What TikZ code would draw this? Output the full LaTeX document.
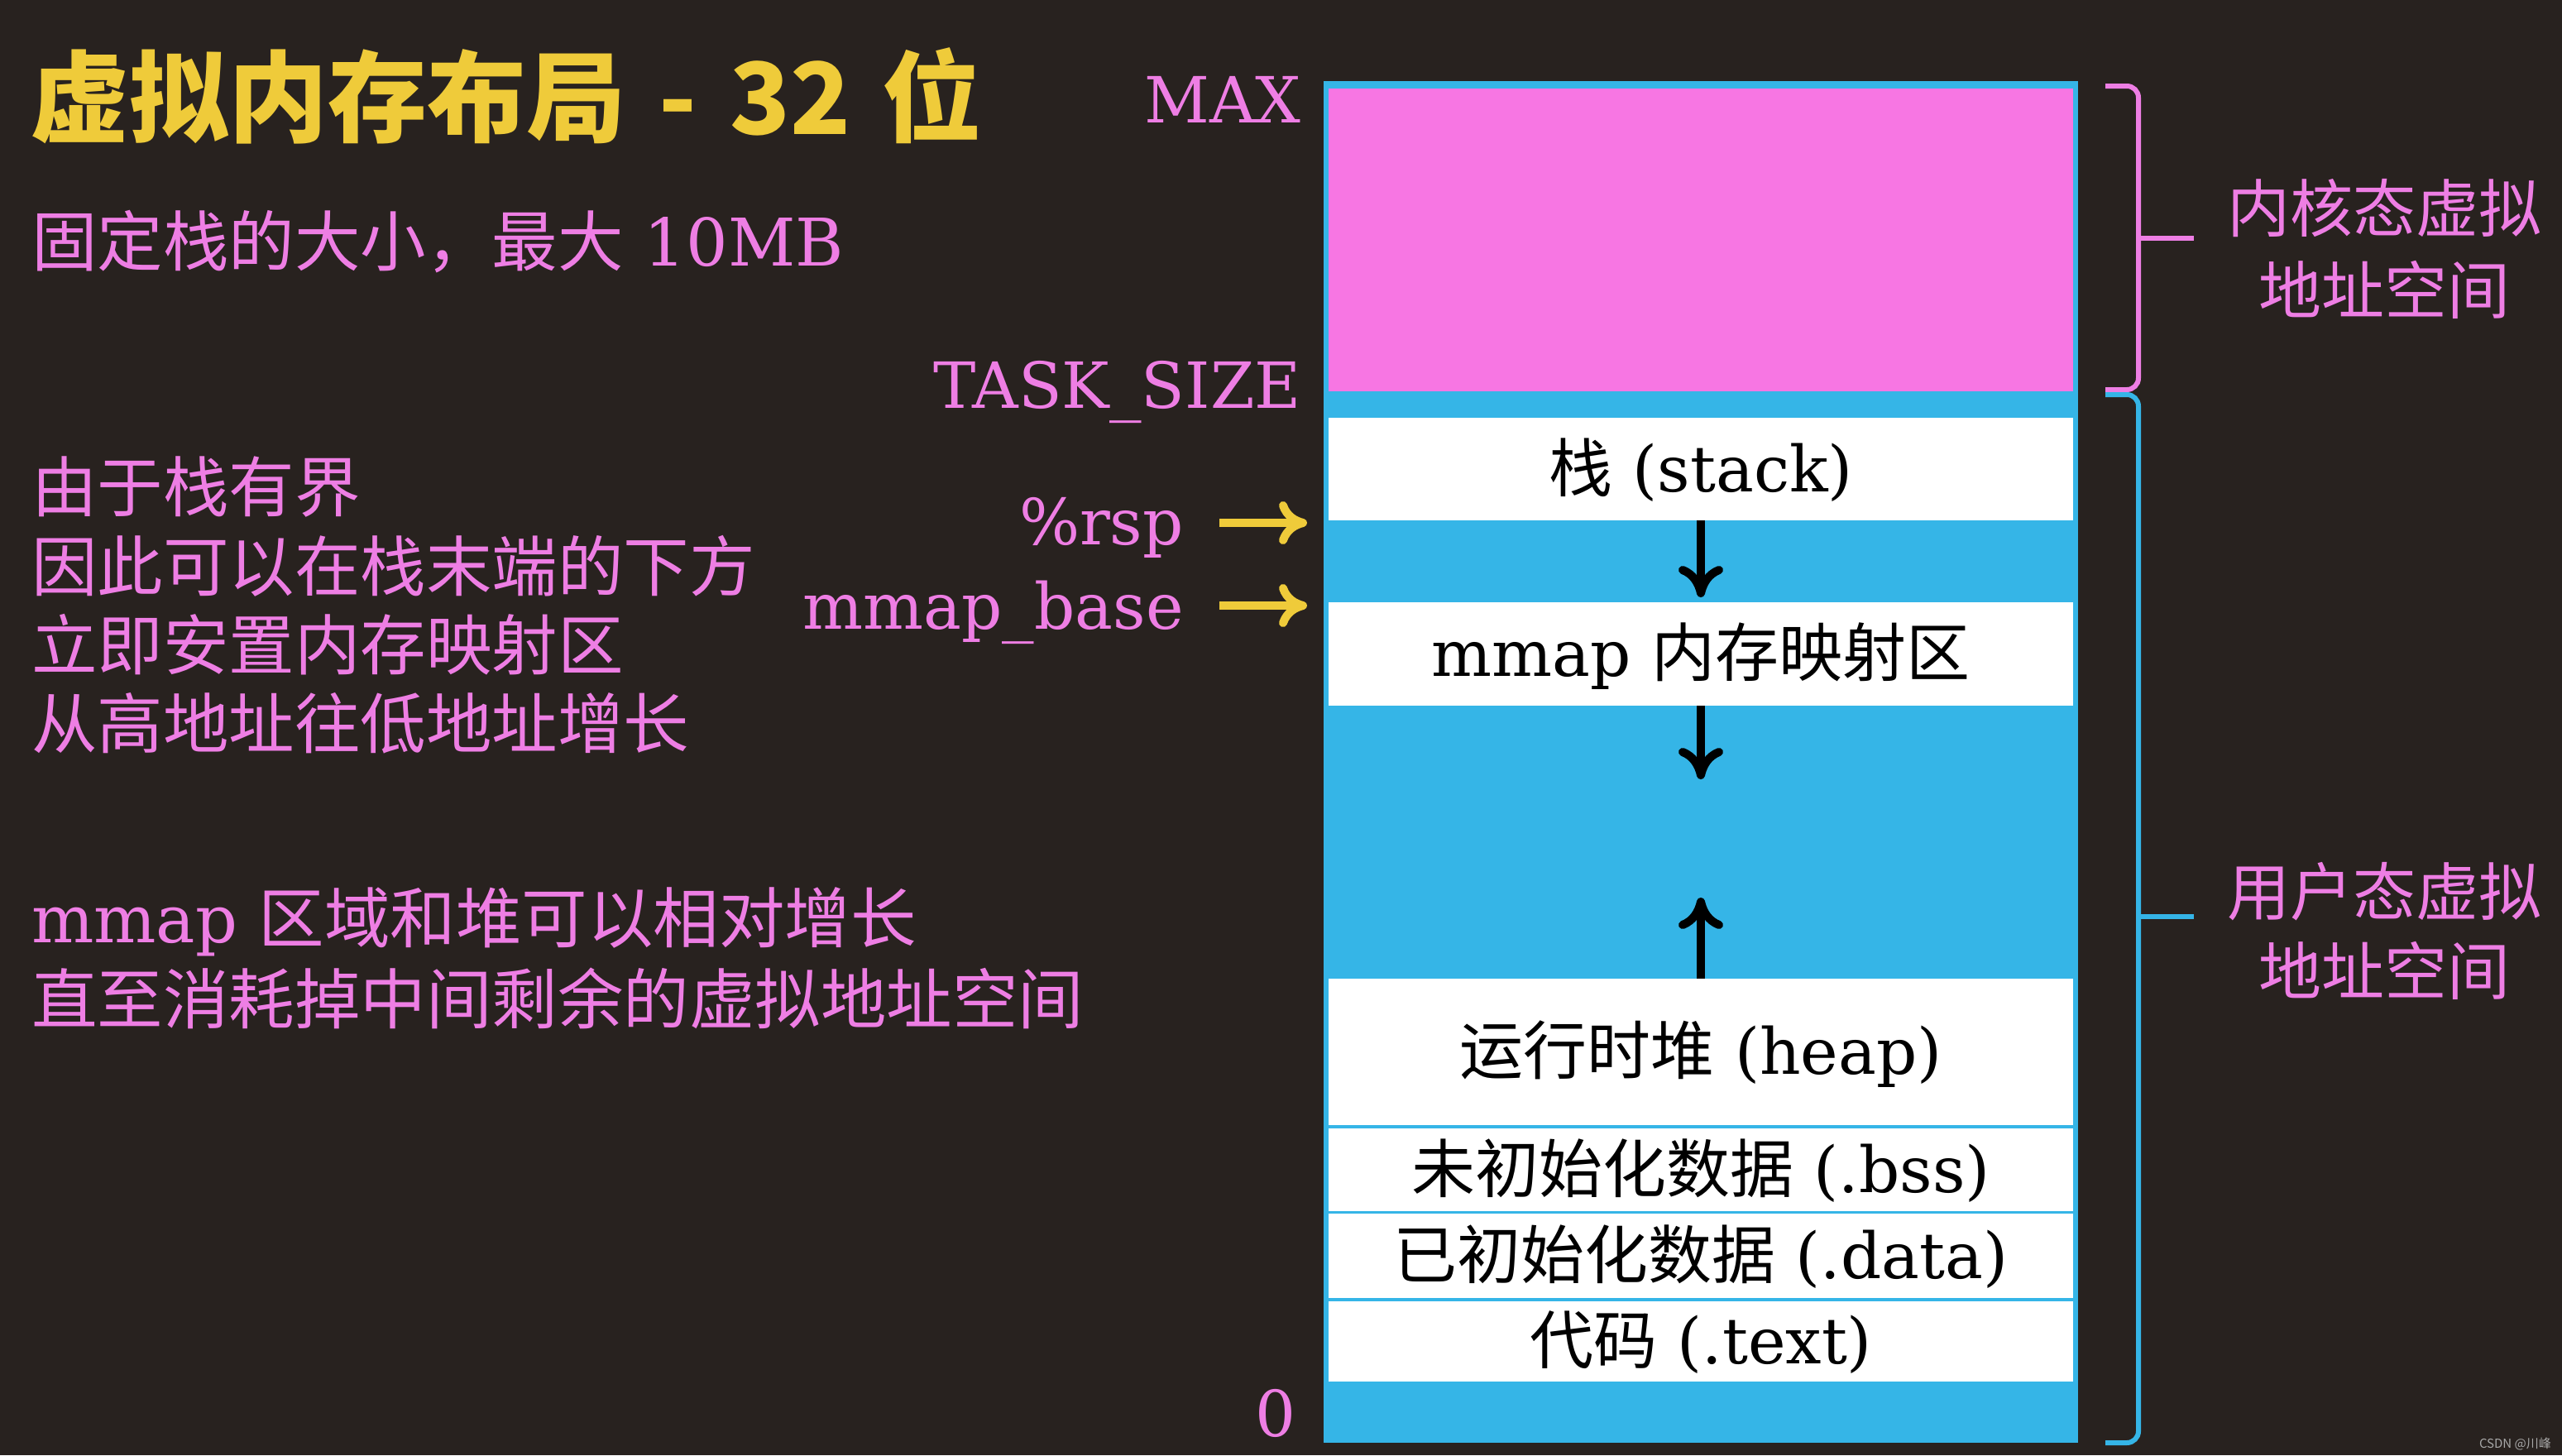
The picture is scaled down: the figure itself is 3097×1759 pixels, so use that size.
\documentclass[tikz,border=0pt]{standalone}
\usepackage{fontspec}
\setmainfont{DejaVu Serif}
\newfontfamily\cjk{Noto Sans CJK SC}
\usetikzlibrary{arrows.meta}
\definecolor{bg}{HTML}{28221F}
\definecolor{tpink}{HTML}{EE7EE4}
\definecolor{bpink}{HTML}{F776E3}
\definecolor{sblue}{HTML}{35B5E7}
\definecolor{tyellow}{HTML}{EFCB3A}
\definecolor{wmgray}{HTML}{A8A8A8}
\newcommand{\fsz}[1]{\fontsize{#1pt}{#1pt}\selectfont}
\begin{document}
\begin{tikzpicture}[x=1pt,y=-1pt,
  lbl/.style={text=tpink, inner sep=0pt, font=\fsz{77}},
  ltxt/.style={text=tpink, inner sep=0pt, anchor=base west, font=\fsz{79.5}},
  rtxt/.style={text=tpink, inner sep=0pt, anchor=base, font=\cjk\fsz{76}},
  cell/.style={fill=white, draw=none, inner sep=0pt, minimum width=900pt,
    text height=54pt, text depth=0pt, text=black, font=\fsz{77}},
  barr/.style={draw=black, line width=10pt, -{Computer Modern Rightarrow[length=38pt,width=54pt]}},
  yarr/.style={draw=tyellow, line width=10pt, -{Computer Modern Rightarrow[length=34pt,width=52pt]}},
  kbrace/.style={draw=tpink, line width=6pt, rounded corners=14pt},
  ubrace/.style={draw=sblue, line width=6pt, rounded corners=14pt}]
\useasboundingbox (0,0) rectangle (3097,1759);
\fill[bg] (0,0) rectangle (3097,1759);

% title
\node[anchor=base west, inner sep=0pt, text=tyellow, font=\cjk\bfseries\fsz{120}] (title) at (36,162)
  {虚拟内存布局\hspace{40pt}-\hspace{40pt}32\hspace{38pt}位};

% left texts
\node[ltxt] (t1) at (38,321) {{\cjk 固定栈的大小，最大} 10MB};
\node[ltxt] (t2) at (38,618) {\cjk 由于栈有界};
\node[ltxt] (t3) at (38,714) {\cjk 因此可以在栈末端的下方};
\node[ltxt] (t4) at (38,809) {\cjk 立即安置内存映射区};
\node[ltxt] (t5) at (38,904) {\cjk 从高地址往低地址增长};
\node[ltxt] (t6) at (38,1139) {mmap {\cjk 区域和堆可以相对增长}};
\node[ltxt] (t7) at (38,1237) {\cjk 直至消耗掉中间剩余的虚拟地址空间};

% address labels
\node[lbl, anchor=base east] (max) at (1573,148) {MAX};
\node[lbl, anchor=base east] (task) at (1573,493) {TASK\_SIZE};
\node[lbl, anchor=base east] (rsp) at (1431,658) {\%rsp};
\node[lbl, anchor=base east] (mbase) at (1431,760) {mmap\_base};
\node[lbl, anchor=base east] (zero) at (1567,1736) {0};

% memory column
\node[fill=sblue, inner sep=0pt, minimum width=912pt, minimum height=1646pt] (space) at (2056,921) {};
\node[fill=bpink, inner sep=0pt, minimum width=900pt, minimum height=366pt] (kernel) at (2056,290) {};
\node[cell, minimum height=124pt] (stack) at (2056,567) {{\cjk 栈} (stack)};
\node[cell, minimum height=125pt] (mmap) at (2056,790.5) {mmap {\cjk 内存映射区}};
\node[cell, minimum height=177pt] (heap) at (2056,1271.5) {{\cjk 运行时堆} (heap)};
\node[cell, minimum height=100pt] (bss) at (2056,1414) {{\cjk 未初始化数据} (.bss)};
\node[cell, minimum height=102pt] (data) at (2056,1518) {{\cjk 已初始化数据} (.data)};
\node[cell, minimum height=97pt] (text) at (2056,1621.5) {{\cjk 代码} (.text)};

% growth arrows
\coordinate (a1) at (2056,722);
\coordinate (a2) at (2056,942);
\coordinate (a3) at (2056,1085);
\draw[barr] (stack.south) -- (a1);
\draw[barr] (mmap.south) -- (a2);
\draw[barr] (heap.north) -- (a3);

% pointer arrows
\coordinate (rspA) at (1474,632);
\coordinate (rspB) at (1580,632);
\coordinate (mbA) at (1474,732);
\coordinate (mbB) at (1580,732);
\draw[yarr] (rspA) -- (rspB);
\draw[yarr] (mbA) -- (mbB);

% braces
\coordinate (kTop) at (2545,104);
\coordinate (kBot) at (2545,471);
\coordinate (kMid) at (2585,288);
\coordinate (kTip) at (2652,288);
\draw[kbrace] (kTop) -- (2585,104) -- (2585,471) -- (kBot);
\draw[draw=tpink, line width=6pt] (kMid) -- (kTip);

\coordinate (uTop) at (2545,477);
\coordinate (uBot) at (2545,1744);
\coordinate (uMid) at (2585,1108);
\coordinate (uTip) at (2652,1108);
\draw[ubrace] (uTop) -- (2585,477) -- (2585,1744) -- (uBot);
\draw[draw=sblue, line width=6pt] (uMid) -- (uTip);

% brace labels
\node[rtxt] (k1) at (2882,280) {内核态虚拟};
\node[rtxt] (k2) at (2882,379) {地址空间};
\node[rtxt] (u1) at (2882,1106) {用户态虚拟};
\node[rtxt] (u2) at (2882,1202) {地址空间};

% watermark
\node[anchor=base east, inner sep=0pt, text=wmgray, font=\cjk\fsz{15}] (wm) at (3084,1750) {CSDN @川峰};
\end{tikzpicture}
\end{document}
